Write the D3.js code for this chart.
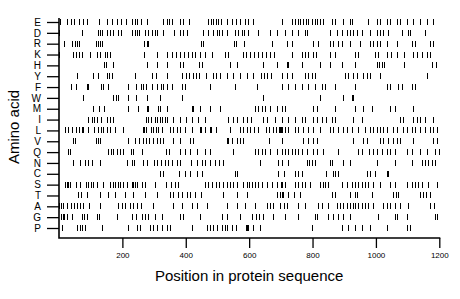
<!DOCTYPE html>
<html>
<head>
<meta charset="utf-8">
<script src="https://cdn.jsdelivr.net/npm/d3@7"></script>
<style>
  body { margin: 0; background: #fff; }
  svg { display: block; font-family: "Liberation Sans", Arial, sans-serif; }
</style>
</head>
<body>
<script>
// positions of each residue type along the sequence
const aminoAcids = ['E', 'D', 'R', 'K', 'H', 'Y', 'F', 'W', 'M', 'I', 'L', 'V', 'Q', 'N', 'C', 'S', 'T', 'A', 'G', 'P']
const xTicks = [200, 400, 600, 800, 1000, 1200]

const posE = [3, 24, 37, 47, 64, 77, 89, 126, 152, 168, 182, 195, 211, 229, 240, 247, 258, 277, 329, 340, 348, 355, 382, 392, 411, 471, 479, 486, 495, 503, 510, 529, 545, 558, 571, 587, 597, 613, 703, 734, 745, 755, 762, 771, 779, 787, 797, 808, 815, 823, 834, 860, 871, 897, 918, 923, 976, 1002, 1013, 1034, 1045, 1066, 1076, 1097, 1118, 1139, 1160, 1181]
const posD = [1, 72, 124, 129, 135, 152, 161, 171, 187, 196, 229, 240, 247, 254, 271, 282, 292, 303, 310, 329, 363, 382, 390, 403, 455, 471, 486, 497, 506, 513, 529, 555, 566, 576, 584, 597, 629, 666, 687, 713, 734, 755, 776, 784, 855, 876, 892, 908, 918, 929, 939, 955, 981, 1002, 1013, 1023, 1039, 1081, 1102, 1107, 1155]
const posR = [17, 40, 50, 58, 64, 116, 122, 129, 136, 268, 279, 282, 447, 453, 552, 559, 584, 671, 718, 734, 802, 818, 855, 866, 881, 892, 918, 950, 981, 992, 1002, 1013, 1034, 1066, 1113, 1123, 1171, 1181]
const posK = [1, 45, 54, 64, 74, 98, 119, 129, 145, 152, 161, 268, 308, 342, 355, 369, 382, 395, 408, 419, 429, 445, 461, 482, 524, 534, 582, 590, 603, 615, 629, 639, 653, 666, 678, 734, 766, 776, 787, 802, 811, 855, 871, 934, 944, 997, 1008, 1034, 1049, 1066, 1088, 1118, 1129, 1144, 1160, 1171]
const posH = [143, 148, 169, 279, 308, 340, 382, 392, 443, 451, 540, 561, 645, 687, 718, 723, 766, 823, 855, 892, 934, 1002, 1011, 1018, 1025, 1088, 1176, 1191]
const posY = [56, 108, 122, 150, 158, 166, 240, 292, 306, 342, 387, 401, 411, 422, 432, 443, 464, 485, 495, 508, 529, 550, 571, 592, 613, 636, 647, 657, 668, 703, 718, 734, 776, 787, 797, 808, 902, 913, 929, 939, 960, 971, 981, 1013, 1160]
const posF = [38, 54, 87, 93, 133, 140, 154, 219, 243, 258, 266, 275, 292, 310, 321, 329, 340, 356, 387, 398, 477, 555, 624, 703, 724, 745, 766, 787, 808, 829, 840, 871, 934, 1034, 1045, 1071, 1081, 1113, 1123]
const posW = [77, 171, 179, 187, 219, 243, 277, 319, 387, 645, 823, 897, 923, 929]
const posM = [106, 127, 142, 219, 250, 277, 282, 313, 319, 342, 419, 424, 445, 476, 508, 618, 629, 639, 650, 666, 687, 703, 713, 802, 813, 871, 934, 960, 987, 1045, 1060, 1118]
const posI = [93, 103, 111, 121, 131, 150, 161, 171, 274, 282, 289, 303, 310, 319, 326, 334, 342, 361, 382, 401, 419, 440, 461, 534, 550, 561, 582, 592, 605, 645, 655, 682, 703, 724, 745, 766, 776, 802, 813, 829, 844, 860, 871, 929, 955, 1076, 1086, 1118, 1129, 1139, 1155, 1181]
const posL = [19, 29, 40, 54, 64, 72, 77, 93, 111, 122, 131, 140, 150, 161, 177, 203, 264, 268, 274, 289, 297, 306, 313, 324, 350, 361, 371, 382, 398, 419, 445, 447, 461, 476, 479, 495, 538, 571, 582, 592, 603, 615, 629, 653, 664, 674, 685, 695, 697, 700, 703, 713, 724, 745, 755, 771, 787, 802, 823, 855, 866, 881, 897, 908, 923, 944, 966, 981, 992, 1002, 1013, 1023, 1034, 1055, 1066, 1086, 1097, 1113, 1123, 1139, 1155, 1171, 1181, 1192]
const posV = [45, 50, 117, 122, 129, 219, 240, 253, 264, 274, 285, 296, 308, 319, 329, 361, 382, 413, 424, 529, 534, 545, 561, 571, 582, 664, 703, 771, 787, 802, 815, 927, 960, 973, 1013, 1021, 1039, 1055, 1068, 1076, 1118, 1181, 1192]
const posQ = [29, 35, 156, 164, 171, 182, 192, 203, 226, 235, 261, 338, 348, 382, 397, 413, 434, 461, 476, 550, 618, 629, 639, 650, 666, 687, 703, 713, 724, 734, 745, 755, 766, 781, 802, 813, 834, 881, 944, 955, 979, 992, 1002, 1018, 1034, 1045, 1060, 1097, 1113, 1139, 1160, 1186, 1198]
const posN = [43, 66, 82, 93, 103, 129, 213, 229, 237, 264, 277, 300, 310, 321, 334, 345, 356, 371, 382, 416, 434, 450, 461, 476, 492, 506, 516, 634, 692, 703, 724, 781, 790, 797, 808, 855, 863, 897, 918, 1002, 1060, 1113, 1144, 1155, 1165, 1176, 1186]
const posC = [320, 327, 380, 397, 413, 434, 450, 555, 562, 692, 710, 745, 755, 766, 844, 866, 871, 881, 971, 981, 997, 1034, 1039]
const posS = [19, 24, 29, 35, 54, 66, 85, 93, 100, 108, 119, 140, 161, 169, 177, 187, 192, 203, 213, 229, 235, 240, 247, 261, 271, 303, 338, 352, 366, 376, 461, 471, 482, 495, 506, 518, 531, 540, 550, 561, 582, 592, 601, 608, 618, 629, 639, 655, 671, 687, 699, 703, 713, 745, 755, 766, 776, 792, 823, 832, 840, 850, 892, 908, 923, 934, 944, 955, 966, 976, 992, 1013, 1045, 1060, 1097, 1113, 1123, 1134, 1144, 1165, 1192]
const posT = [61, 69, 89, 129, 156, 177, 208, 232, 271, 310, 350, 361, 376, 387, 403, 413, 429, 447, 518, 561, 592, 687, 697, 703, 708, 724, 740, 761, 863, 871, 918, 934, 939, 987, 1055, 1063, 1071, 1139, 1148, 1158, 1171]
const posA = [1, 5, 14, 24, 38, 48, 58, 66, 77, 96, 129, 187, 198, 208, 224, 235, 247, 258, 298, 361, 387, 419, 434, 466, 529, 561, 587, 618, 655, 666, 676, 697, 710, 720, 755, 776, 818, 829, 850, 876, 887, 897, 908, 918, 927, 934, 944, 955, 966, 976, 992, 1023, 1034, 1045, 1060, 1076, 1102, 1171, 1183]
const posG = [5, 12, 17, 24, 40, 72, 79, 89, 119, 127, 182, 229, 243, 261, 271, 282, 303, 324, 382, 392, 445, 513, 529, 571, 608, 622, 632, 643, 676, 713, 755, 808, 813, 850, 866, 881, 897, 918, 1008, 1060, 1066, 1097, 1186, 1192]
const posP = [10, 56, 65, 74, 83, 135, 219, 245, 256, 287, 298, 308, 324, 340, 350, 419, 466, 476, 487, 497, 513, 524, 529, 545, 560, 590, 594, 597, 613, 634, 797, 892, 913, 934, 955, 981, 1034, 1097, 1107]

const rows = [posE, posD, posR, posK, posH, posY, posF, posW, posM, posI, posL, posV, posQ, posN, posC, posS, posT, posA, posG, posP]

// flatten into one mark per residue
const marks = []
aminoAcids.forEach((aa, i) => {
  rows[i].forEach((p) => marks.push({ aa: aa, pos: p }))
})

const width = 460
const height = 299
const plotLeft = 59
const plotRight = 439.3
const plotTop = 22
const plotBottom = 228
const axisY = 238

const svg = d3
  .select(document.body)
  .append('svg')
  .attr('width', width)
  .attr('height', height)

const x = d3.scaleLinear().domain([0, 1200]).range([plotLeft, plotRight])
const y = d3.scalePoint().domain(aminoAcids).range([plotTop, plotBottom])

// residue marks
svg
  .append('g')
  .attr('shape-rendering', 'crispEdges')
  .selectAll('line')
  .data(marks)
  .enter()
  .append('line')
  .attr('x1', (d) => Math.round(x(d.pos)) + 0.5)
  .attr('x2', (d) => Math.round(x(d.pos)) + 0.5)
  .attr('y1', (d) => y(d.aa) - 3)
  .attr('y2', (d) => y(d.aa) + 3)
  .attr('stroke', '#000')
  .attr('stroke-width', 1)

// x axis
const xAxis = svg
  .append('g')
  .attr('transform', `translate(0,${axisY})`)
  .call(
    d3
      .axisBottom(x)
      .tickValues(xTicks)
      .tickFormat(d3.format('d'))
      .tickSize(10)
      .tickSizeOuter(0)
  )
xAxis.select('.domain').remove()
xAxis.selectAll('.tick line').attr('stroke-width', 1.3)
xAxis
  .selectAll('.tick text')
  .attr('y', 14)
  .attr('font-size', 8)
  .attr('fill', '#000')
  .attr('font-family', '"Liberation Sans", Arial, sans-serif')

// y axis
const yAxis = svg
  .append('g')
  .attr('transform', `translate(${plotLeft},0)`)
  .call(d3.axisLeft(y).tickSize(12).tickSizeOuter(0))
yAxis.select('.domain').remove()
yAxis.selectAll('.tick line').attr('stroke-width', 1.3)
yAxis
  .selectAll('.tick text')
  .attr('x', -18)
  .attr('font-size', 10)
  .attr('fill', '#000')
  .attr('font-family', '"Liberation Sans", Arial, sans-serif')

// axis frame lines (left and bottom)
svg
  .append('path')
  .attr('d', `M${plotLeft},${plotTop - 4}V${axisY}H${plotRight + 1}`)
  .attr('fill', 'none')
  .attr('stroke', '#000')
  .attr('stroke-width', 1.6)

// titles
svg
  .append('text')
  .attr('x', (plotLeft + plotRight) / 2)
  .attr('y', 281)
  .attr('text-anchor', 'middle')
  .attr('font-size', 15)
  .text('Position in protein sequence')

svg
  .append('text')
  .attr('transform', `translate(19,${(plotTop + plotBottom) / 2 + 2}) rotate(-90)`)
  .attr('text-anchor', 'middle')
  .attr('font-size', 15)
  .text('Amino acid')
</script>
</body>
</html>
